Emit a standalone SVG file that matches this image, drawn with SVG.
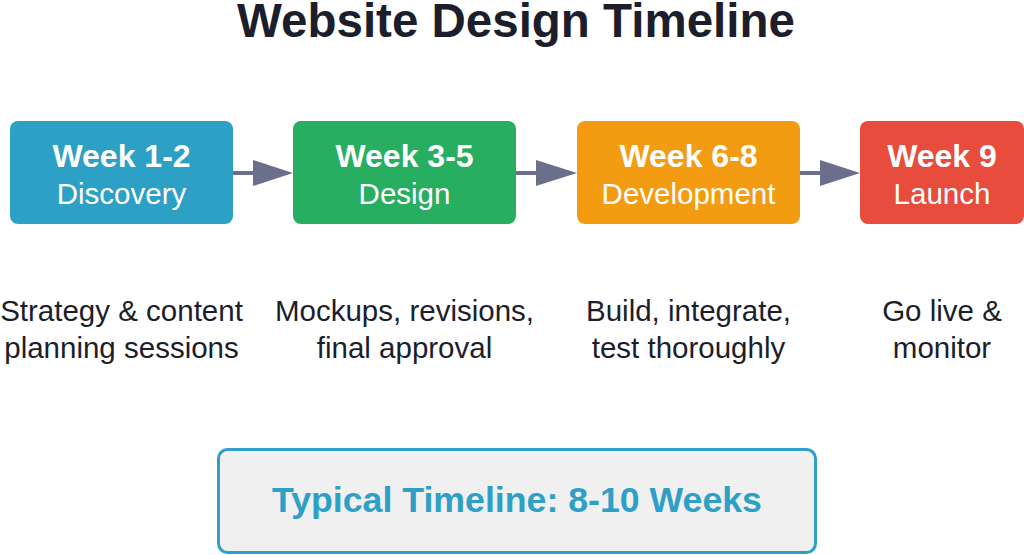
<svg xmlns="http://www.w3.org/2000/svg" width="1024" height="555" viewBox="0 0 1024 555">
<style>
.title{font-family:"Liberation Sans",Arial,sans-serif;font-weight:bold;font-size:47.5px;fill:#1c1e2c;text-anchor:middle}
.wk{font-family:"Liberation Sans",Arial,sans-serif;font-weight:bold;font-size:32px;fill:#fff;text-anchor:middle}
.ph{font-family:"Liberation Sans",Arial,sans-serif;font-size:29.5px;fill:#fff;text-anchor:middle}
.desc{font-family:"Liberation Sans",Arial,sans-serif;font-size:29.5px;fill:#1c1e2c;text-anchor:middle}
.sum{font-family:"Liberation Sans",Arial,sans-serif;font-weight:bold;font-size:35.7px;fill:#2e9fc6;text-anchor:middle}
.conn{stroke:#6b6f8c;stroke-width:4;fill:none}
</style>
<rect width="1024" height="555" fill="#fff"/>
<text class="title" x="516" y="37">Website Design Timeline</text>
<g id="connectors">
<line class="conn" x1="233" y1="173" x2="255" y2="173"/>
<path d="M253,160 L293,173 L253,186 z" fill="#6b6f8c"/>
<line class="conn" x1="516" y1="173" x2="538" y2="173"/>
<path d="M536,160 L577,173 L536,186 z" fill="#6b6f8c"/>
<line class="conn" x1="800" y1="173" x2="822" y2="173"/>
<path d="M820,160 L860,173 L820,186 z" fill="#6b6f8c"/>
</g>
<g id="week1-2">
<rect x="10" y="121" width="223" height="103" rx="8" fill="#2ca0c5"/>
<text class="wk" x="121.5" y="167">Week 1-2</text>
<text class="ph" x="121.5" y="204">Discovery</text>
<text class="desc" x="121.5" y="321">Strategy &amp; content</text>
<text class="desc" x="121.5" y="358">planning sessions</text>
</g>
<g id="week3-5">
<rect x="293" y="121" width="223" height="103" rx="8" fill="#27ae60"/>
<text class="wk" x="404.5" y="167">Week 3-5</text>
<text class="ph" x="404.5" y="204">Design</text>
<text class="desc" x="404.5" y="321">Mockups, revisions,</text>
<text class="desc" x="404.5" y="358">final approval</text>
</g>
<g id="week6-8">
<rect x="577" y="121" width="223" height="103" rx="8" fill="#f39c12"/>
<text class="wk" x="688.5" y="167">Week 6-8</text>
<text class="ph" x="688.5" y="204">Development</text>
<text class="desc" x="688.5" y="321">Build, integrate,</text>
<text class="desc" x="688.5" y="358">test thoroughly</text>
</g>
<g id="week9">
<rect x="860" y="121" width="164" height="103" rx="8" fill="#e74c3c"/>
<text class="wk" x="942" y="167">Week 9</text>
<text class="ph" x="942" y="204">Launch</text>
<text class="desc" x="942" y="321">Go live &amp;</text>
<text class="desc" x="942" y="358">monitor</text>
</g>
<g id="summary">
<rect x="218.5" y="449.5" width="597" height="103" rx="9" fill="#f0f0f0" stroke="#2e9fc6" stroke-width="3"/>
<text class="sum" x="517" y="512">Typical Timeline: 8-10 Weeks</text>
</g>
</svg>
